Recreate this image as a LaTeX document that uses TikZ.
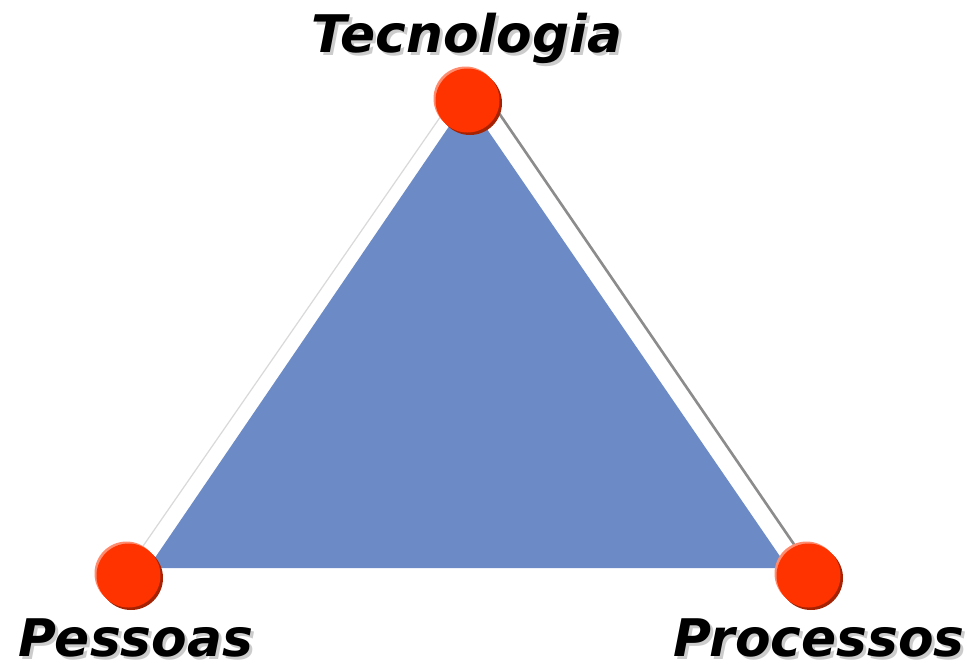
\documentclass[tikz,border=0pt]{standalone}
\usepackage{fontspec}
\newfontfamily\rotulofont{DejaVu Sans}
\definecolor{azultri}{RGB}{108,139,198}
\definecolor{laranja}{RGB}{255,51,0}
\definecolor{laranjaclaro}{RGB}{255,140,110}
\definecolor{vermelhoescuro}{RGB}{165,35,5}
\begin{document}
\begin{tikzpicture}[
      x=0.02cm, y=-0.02cm,
      vertice/.style={circle, fill=laranja, minimum size=1.28cm, inner sep=0pt},
      rotulo/.style={font=\rotulofont\bfseries\itshape\fontsize{29.5}{30}\selectfont, inner sep=0pt},
      sombra/.style={rotulo, text=black!20},
      lado/.style={line width=1.5pt, draw=black!45},
      ladoclaro/.style={line width=0.7pt, draw=black!15}
    ]

    \useasboundingbox (0,0) rectangle (969,667);

    % vertices do triangulo
    \coordinate (tec) at (467,100);
    \coordinate (pes) at (128,575);
    \coordinate (pro) at (808,575);

    % linhas de fundo
    \draw[ladoclaro] ([shift={(-15,0)}]tec) -- ([shift={(-5,0)}]pes);
    \draw[lado] ([shift={(23,0)}]tec) -- ([shift={(7,0)}]pro);

    % triangulo azul
    \fill[azultri] (tec) -- (148,568) -- (788,568) -- cycle;

    % circulos
    \foreach \v in {tec, pes, pro} {
        \node[vertice, fill=vermelhoescuro] at ([shift={(3,3)}]\v) {};
        \node[vertice, fill=laranjaclaro] at ([shift={(-1.5,-1.5)}]\v) {};
        \node[vertice] (c\v) at ([shift={(0.5,0.5)}]\v) {};
      }

    % rotulos
    \node[sombra, anchor=base] at (470,55) {Tecnologia};
    \node[rotulo, anchor=base] (ltec) at (467,52) {Tecnologia};
    \node[sombra, anchor=base west] at (21,659) {Pessoas};
    \node[rotulo, anchor=base west] (lpes) at (18,656) {Pessoas};
    \node[sombra, anchor=base east] at (968,659) {Processos};
    \node[rotulo, anchor=base east] (lpro) at (965,656) {Processos};

  \end{tikzpicture}
\end{document}
